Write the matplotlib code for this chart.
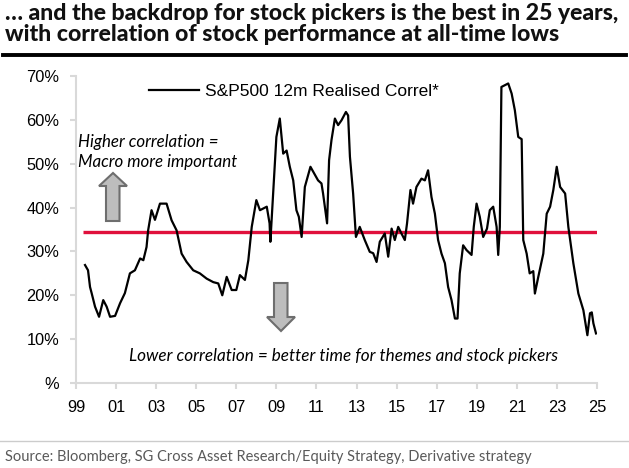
import matplotlib.pyplot as plt
from matplotlib.patches import Polygon
from matplotlib.lines import Line2D

# S&P500 12m realised correlation (decimal year, %)
years = [1999.45, 1999.6, 1999.7, 1999.78, 1999.95, 2000.15, 2000.36, 2000.53, 2000.7, 2000.95,
         2001.2, 2001.44, 2001.69, 2001.94, 2002.2, 2002.36, 2002.52, 2002.6, 2002.77, 2002.94,
         2003.19, 2003.52, 2003.77, 2004.02, 2004.27, 2004.52, 2004.85, 2005.18, 2005.52, 2005.85,
         2006.1, 2006.3, 2006.52, 2006.77, 2007.0, 2007.18, 2007.43, 2007.6, 2007.77, 2008.0,
         2008.18, 2008.52, 2008.66, 2008.7, 2008.84, 2009.0, 2009.17, 2009.34, 2009.51, 2009.67,
         2009.84, 2010.0, 2010.12, 2010.26, 2010.42, 2010.7, 2011.08, 2011.25, 2011.33, 2011.53,
         2011.63, 2011.75, 2011.92, 2012.08, 2012.25, 2012.47, 2012.58, 2012.67, 2012.83, 2012.97,
         2013.16, 2013.41, 2013.66, 2013.83, 2014.0, 2014.16, 2014.41, 2014.58, 2014.75, 2014.91,
         2015.08, 2015.24, 2015.41, 2015.52, 2015.69, 2015.82, 2015.99, 2016.24, 2016.41, 2016.57,
         2016.74, 2016.91, 2017.07, 2017.24, 2017.41, 2017.57, 2017.74, 2017.91, 2018.04, 2018.15,
         2018.32, 2018.49, 2018.74, 2018.85, 2018.99, 2019.15, 2019.32, 2019.51, 2019.65, 2019.82,
         2019.99, 2020.07, 2020.15, 2020.23, 2020.4, 2020.57, 2020.74, 2020.9, 2021.07, 2021.24,
         2021.32, 2021.49, 2021.64, 2021.82, 2021.9, 2022.07, 2022.32, 2022.49, 2022.66, 2022.82,
         2022.99, 2023.16, 2023.41, 2023.57, 2023.82, 2024.07, 2024.32, 2024.52, 2024.65, 2024.74,
         2024.82, 2024.95]
correl = [26.9, 25.7, 21.9, 20.5, 17.4, 15.1, 18.9, 17.4, 15.1, 15.3,
          18.2, 20.5, 25.0, 25.7, 28.4, 28.0, 31.0, 34.8, 39.4, 37.2,
          40.9, 40.9, 37.1, 34.8, 29.5, 27.6, 25.7, 25.0, 23.8, 23.0,
          22.7, 20.0, 24.2, 21.2, 21.2, 24.6, 23.5, 28.0, 35.6, 41.7,
          39.4, 40.2, 36.4, 32.2, 43.2, 56.1, 60.3, 52.3, 53.0, 49.3,
          46.2, 39.4, 37.9, 33.3, 44.7, 49.3, 46.2, 45.5, 43.2, 36.4,
          50.8, 55.4, 60.3, 58.8, 59.9, 61.8, 61.0, 51.6, 43.2, 33.3,
          35.6, 32.6, 29.9, 29.6, 27.6, 32.2, 34.1, 28.8, 35.2, 32.6,
          35.6, 34.1, 32.6, 36.4, 44.0, 40.9, 44.7, 46.6, 46.2, 48.5,
          42.4, 38.6, 32.6, 29.5, 27.3, 21.9, 18.9, 14.7, 14.7, 25.0,
          31.4, 30.3, 29.2, 35.6, 40.9, 37.9, 33.3, 35.2, 39.4, 40.2,
          35.6, 29.2, 35.6, 67.5, 67.9, 68.3, 66.0, 62.2, 56.1, 55.6,
          32.6, 29.5, 25.0, 25.5, 20.4, 24.2, 29.5, 38.6, 40.2, 44.0,
          49.3, 44.7, 43.2, 35.6, 27.3, 20.4, 16.6, 10.9, 15.9, 16.1,
          13.6, 11.3]
avg_level = 34.5

xticks = list(range(1999, 2026, 2))
xticklabels = [f"{y % 100:02d}" for y in xticks]
yticks = [0, 10, 20, 30, 40, 50, 60, 70]
yticklabels = ["%"] + [f"{v}%" for v in yticks[1:]]

title = ("\u2026 and the backdrop for stock pickers is the best in 25 years,\n"
         "with correlation of stock performance at all-time lows")
source = "Source: Bloomberg, SG Cross Asset Research/Equity Strategy, Derivative strategy"

W, H = 629, 468
fig = plt.figure(figsize=(W / 100, H / 100), dpi=100)
ax = fig.add_axes([76 / W, 1 - 383 / H, (597 - 76) / W, (383 - 76) / H])

ax.plot(years, correl, color="black", lw=1.6, zorder=3)
ax.hlines(avg_level, 1999.35, 2025, color="#e0103c", lw=2.4, zorder=2)

ax.set_xlim(1999, 2025)
ax.set_ylim(0, 70)
ax.set_xticks(xticks)
ax.set_xticklabels(xticklabels)
ax.set_yticks(yticks)
ax.set_yticklabels(yticklabels)
for s in ["top", "right"]:
    ax.spines[s].set_visible(False)
for s in ["left", "bottom"]:
    ax.spines[s].set_color("#d9d9d9")
    ax.spines[s].set_linewidth(1.5)
ax.tick_params(axis="both", colors="#d9d9d9", length=4, width=1.5, labelcolor="black",
               labelsize=11.8, pad=8)
for lab in ax.get_xticklabels() + ax.get_yticklabels():
    lab.set_fontfamily("Liberation Sans")

handle = Line2D([], [], color="black", lw=1.6)
leg = ax.legend([handle], ["S&P500 12m Realised Correl*"], loc="upper left",
                bbox_to_anchor=(0.11, 1.025), frameon=False, handlelength=2.9,
                handletextpad=0.35, prop={"family": "Liberation Sans", "size": 12.5})

ax.text(0.004, 0.812, "Higher correlation =\nMacro more important", transform=ax.transAxes,
        ha="left", va="top", fontsize=12.2, style="italic", family="Lato",
        linespacing=1.3)
ax.text(0.513, 0.088, "Lower correlation = better time for themes and stock pickers",
        transform=ax.transAxes, ha="center", va="center", fontsize=12.3,
        style="italic", family="Lato")


def px(pts):
    return [(x / W, 1 - y / H) for x, y in pts]


up = [(113, 173), (127, 186), (119.5, 186), (119.5, 221), (106, 221), (106, 186), (99, 186)]
down = [(281, 331), (295, 317), (287.5, 317), (287.5, 283), (274, 283), (274, 317), (267, 317)]
for shape in (up, down):
    fig.patches.append(Polygon(px(shape), closed=True, transform=fig.transFigure,
                               facecolor="#bdbdbd", edgecolor="#6e6e6e", lw=1.5))

fig.text(5 / W, 1 - 3 / H, title, ha="left", va="top", fontsize=16.6, fontweight="black",
         family="Lato", linespacing=1.0, color="#111111")
fig.add_artist(Line2D([3 / W, 626 / W], [1 - 55 / H, 1 - 55 / H], transform=fig.transFigure,
                      color="black", lw=2.8))
fig.add_artist(Line2D([0, 1], [1 - 441 / H, 1 - 441 / H], transform=fig.transFigure,
                      color="#cccccc", lw=1))
fig.text(5 / W, 1 - 457 / H, source, ha="left", va="center", fontsize=10.5,
         family="Lato", color="#595959")

fig.savefig("out.png", dpi=100)
